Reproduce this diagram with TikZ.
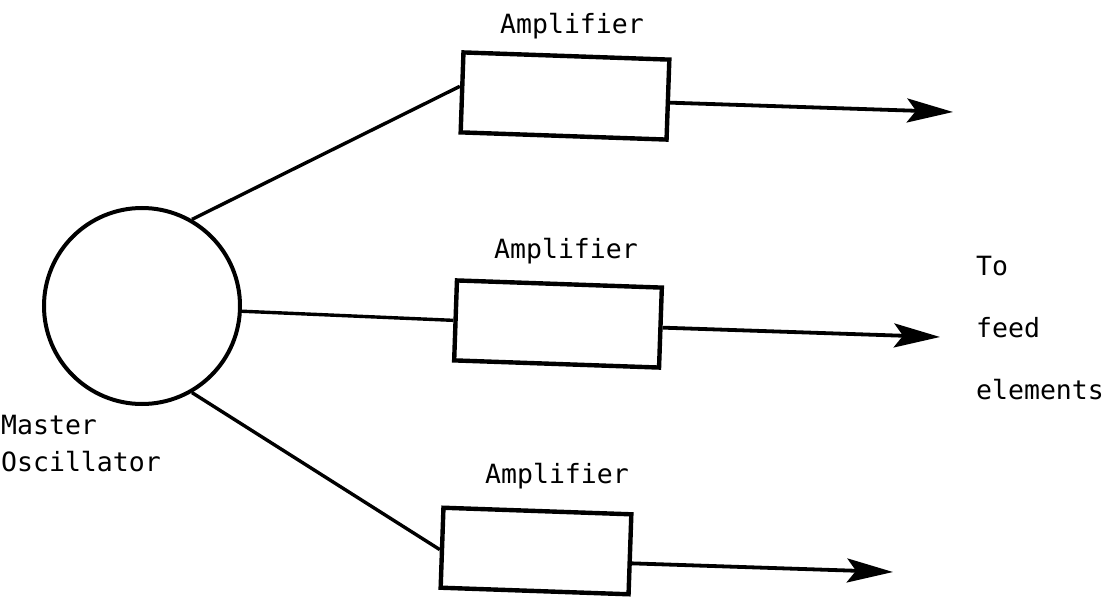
\documentclass[tikz,border=0pt]{standalone}
\usepackage{fontspec}
\setmonofont{DejaVu Sans Mono}
\usetikzlibrary{arrows.meta}
\begin{document}
\begin{tikzpicture}[x=1pt,y=1pt,
  lbl/.style={font=\ttfamily\fontsize{26.5}{37}\selectfont, inner sep=0pt},
  ampbox/.style={draw, line width=4.4pt, rectangle, inner sep=0pt, rotate=-2},
  wire/.style={line width=3.4pt},
  feedarrow/.style={line width=3.8pt, -{Stealth[length=46pt,width=24pt,inset=9pt]}}]
\useasboundingbox (0,0) rectangle (1119,-599);

% master oscillator
\node[draw, circle, line width=4pt, minimum size=196pt, inner sep=0pt] (osc) at (142,-306) {};
\node[lbl, anchor=north west, align=left] (osclbl) at (1,-415) {Master\\Oscillator};

% amplifiers
\node[ampbox, minimum width=206pt, minimum height=80pt] (a1) at (565,-96) {};
\node[ampbox, minimum width=205pt, minimum height=80pt] (a2) at (558,-324) {};
\node[ampbox, minimum width=188pt, minimum height=80pt] (a3) at (536,-551) {};
\node[lbl] (l1) at (572,-26) {Amplifier};
\node[lbl] (l2) at (566,-251) {Amplifier};
\node[lbl] (l3) at (557,-476) {Amplifier};

% outputs
\coordinate (o1) at (953,-112);
\coordinate (o2) at (940,-337);
\coordinate (o3) at (893,-572);
\node[lbl, anchor=west, align=left, font=\ttfamily\fontsize{26.5}{62}\selectfont] (dest) at (976,-328) {To\\feed\\elements};

% connections
\draw[wire] (osc.60) -- ([yshift=6pt]a1.west);
\draw[wire] (osc.-3) -- (a2.west);
\draw[wire] (osc.-60) -- ([yshift=-2pt]a3.west);
\draw[feedarrow] ([yshift=-3pt]a1.east) -- (o1);
\draw[feedarrow] (a2.east) -- (o2);
\draw[feedarrow] ([yshift=-9pt]a3.east) -- (o3);
\end{tikzpicture}
\end{document}
